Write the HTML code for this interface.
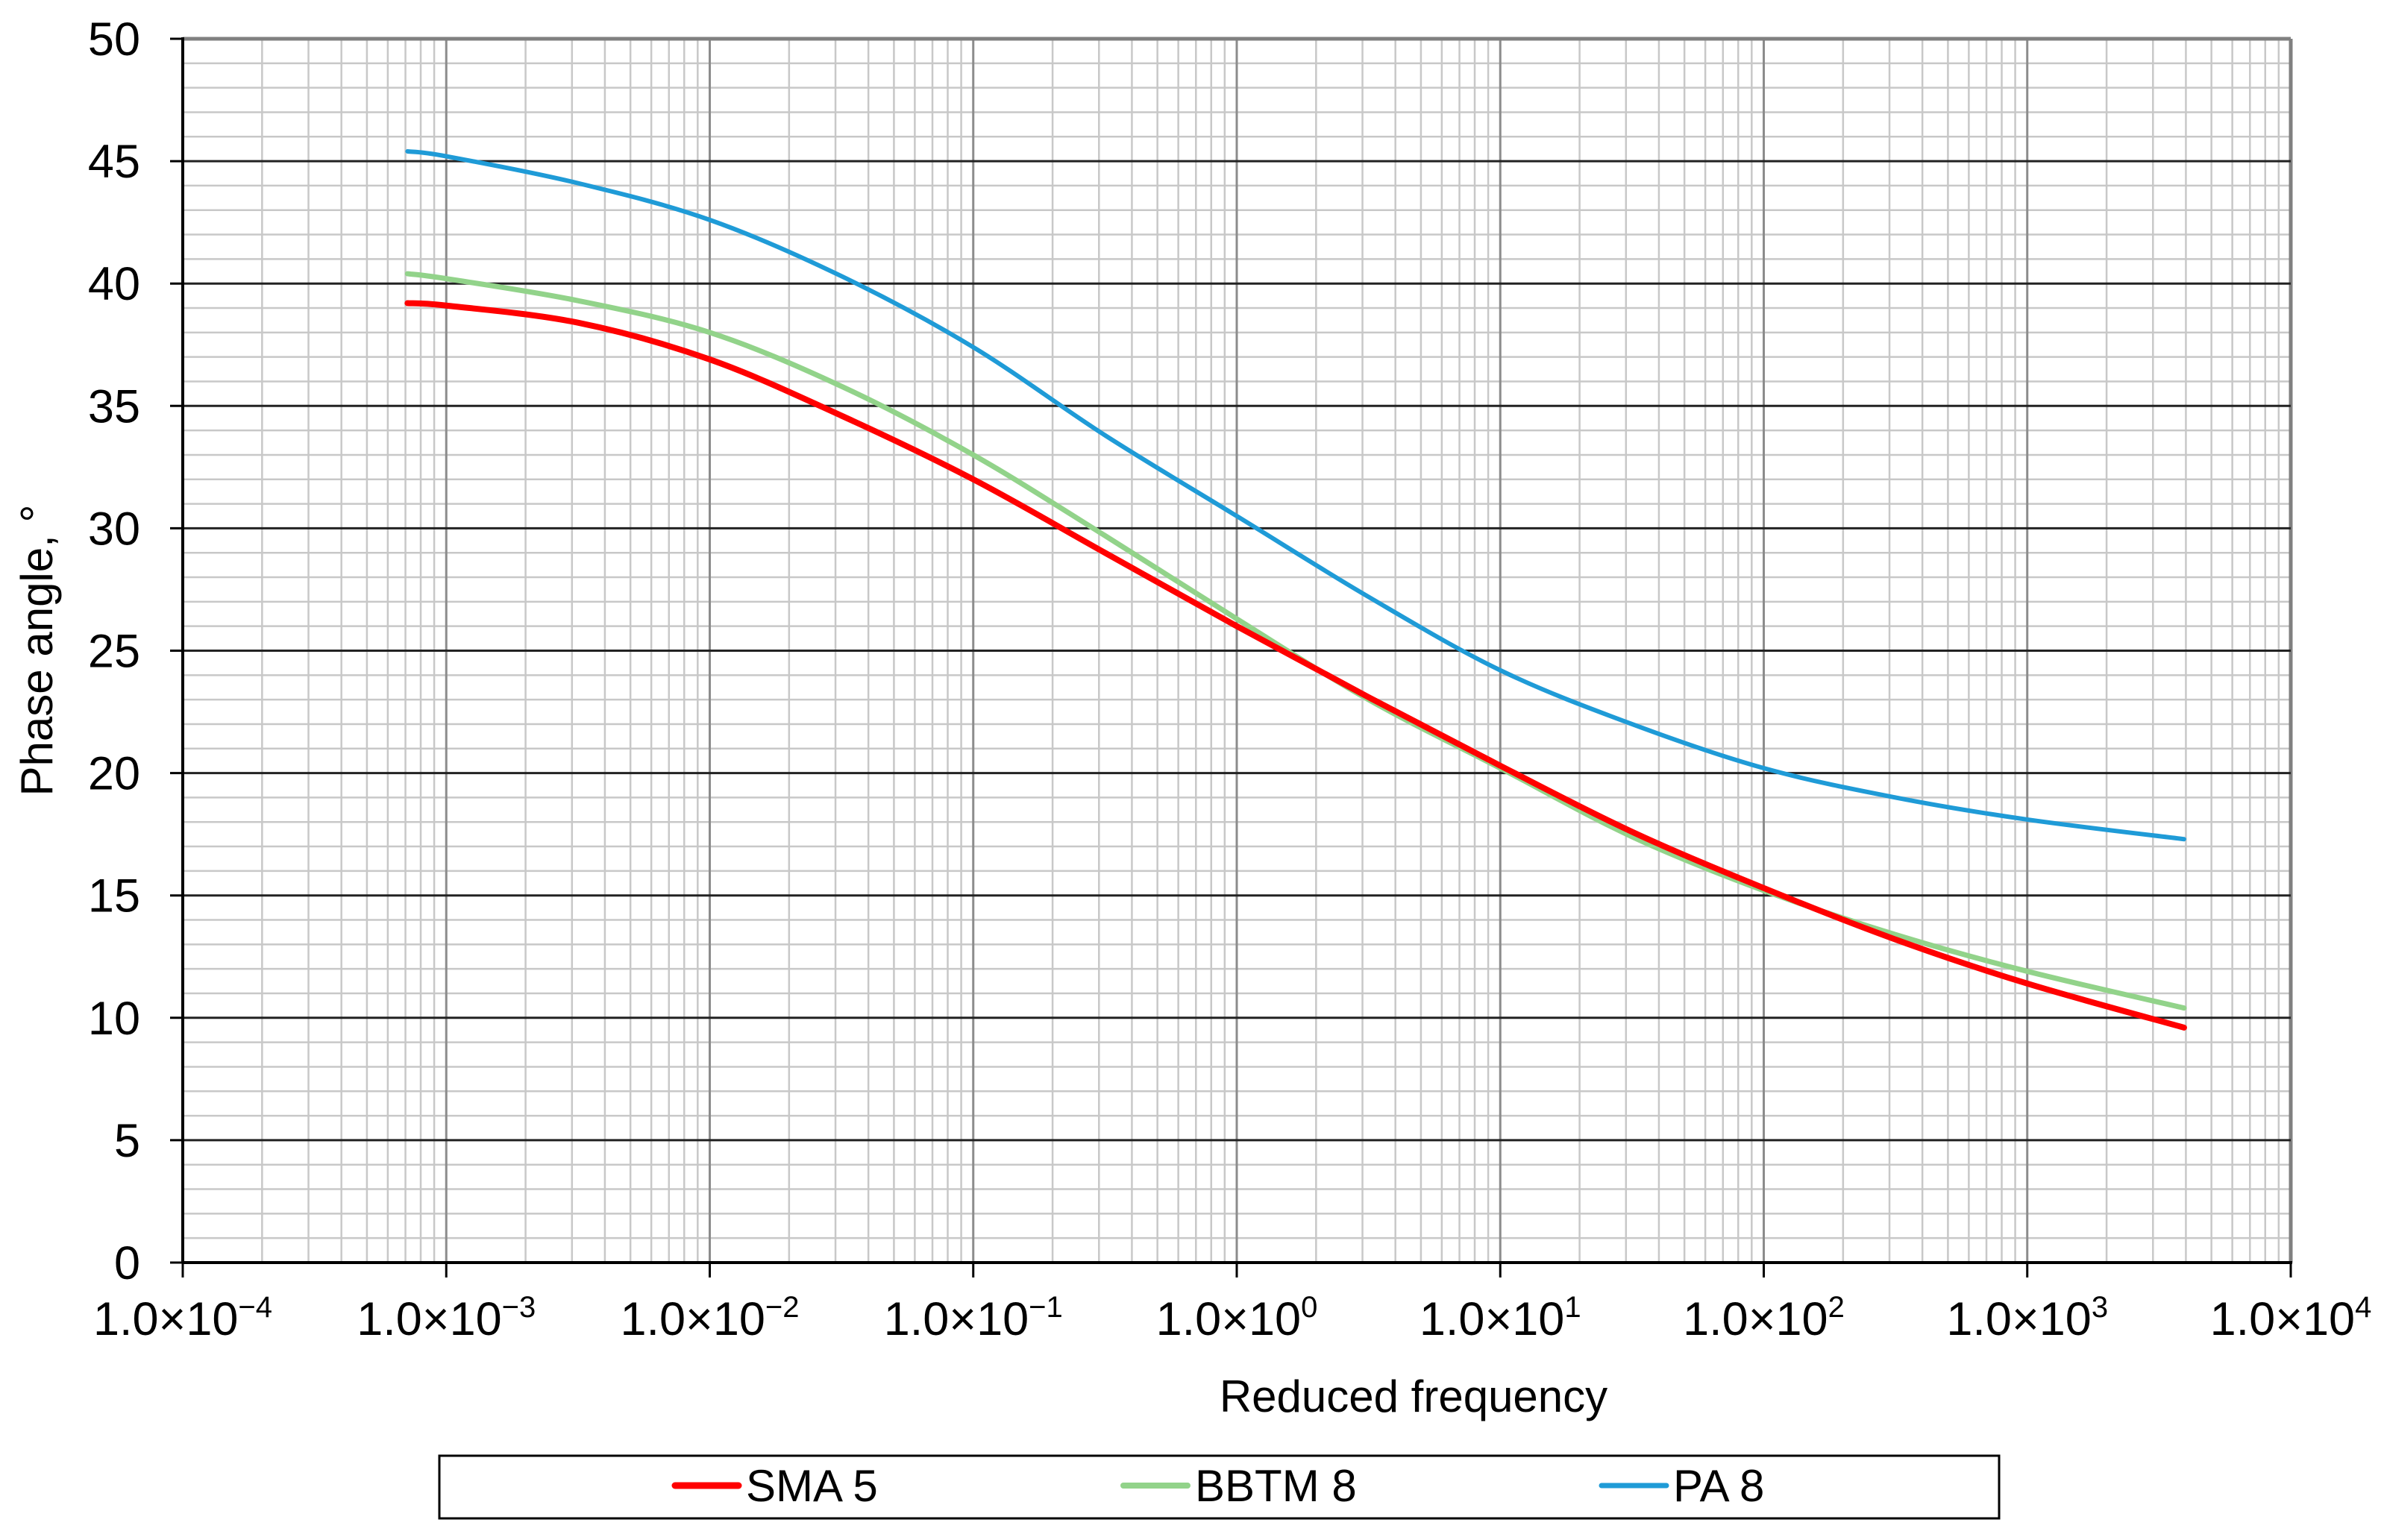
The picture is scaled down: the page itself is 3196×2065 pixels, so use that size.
<!DOCTYPE html>
<html><head><meta charset="utf-8"><style>
html,body{margin:0;padding:0;background:#fff;}
svg{display:block;font-family:"Liberation Sans",Arial,sans-serif;}
</style></head><body>
<svg id="chart" width="3196" height="2065" viewBox="0 0 3196 2065" xmlns="http://www.w3.org/2000/svg">
<g id="grid"></g>
<g id="series"></g>
<g id="axes"></g>
<text x="0" y="0" font-size="60" text-anchor="middle" transform="translate(70,872) rotate(-90)">Phase angle, °</text>
<text x="1895" y="1893" font-size="60" text-anchor="middle">Reduced frequency</text>
<g>
<rect x="589" y="1952" width="2091" height="84" fill="#fff" stroke="#000" stroke-width="3"/>
<g>
<line x1="905" y1="1992" x2="990" y2="1992" stroke="#ff0000" stroke-width="9" stroke-linecap="round"/>
<text x="1000" y="2013" font-size="60">SMA 5</text></g>
<g>
<line x1="1506" y1="1992" x2="1592" y2="1992" stroke="#92d38a" stroke-width="8" stroke-linecap="round"/>
<text x="1602" y="2013" font-size="60">BBTM 8</text></g>
<g>
<line x1="2147" y1="1992" x2="2234" y2="1992" stroke="#1f9bd7" stroke-width="7" stroke-linecap="round"/>
<text x="2243" y="2013" font-size="60">PA 8</text></g>
</g>
</svg>
<script>
const xLog = [-3.147,-3,-2.5,-2,-1.5,-1,-0.5,0,0.5,1,1.5,2,2.5,3,3.595];
const sma5 = [39.2,39.1,38.4,36.9,34.6,32.0,29.0,26.0,23.1,20.3,17.6,15.3,13.2,11.4,9.6];
const bbtm8 = [40.4,40.2,39.3,38.0,35.8,33.0,29.7,26.3,23.0,20.2,17.4,15.2,13.4,11.9,10.4];
const pa8 = [45.4,45.2,44.1,42.6,40.3,37.4,33.8,30.5,27.2,24.2,22.0,20.2,19.0,18.1,17.3];
const yTicks = [0,5,10,15,20,25,30,35,40,45,50];
const xDecades = [-4,-3,-2,-1,0,1,2,3,4];

const L=245,R=3071,T=52,B=1693;
const X=l=>L+(l+4)/8*(R-L);
const Y=v=>B-v/50*(B-T);
const NS="http://www.w3.org/2000/svg";
function mk(tag,attrs,parent){const e=document.createElementNS(NS,tag);for(const k in attrs)e.setAttribute(k,attrs[k]);parent.appendChild(e);return e;}
const grid=document.getElementById('grid'),axes=document.getElementById('axes'),ser=document.getElementById('series');
// minor horizontal
for(let v=1;v<50;v++){if(v%5===0)continue;
const l=mk('line',{x1:L,x2:R,y1:Y(v),y2:Y(v),stroke:'#c8c8c8','stroke-width':2.5},grid);

}
// minor vertical
for(let d=-4;d<4;d++){for(let m=2;m<=9;m++){const x=X(d+Math.log10(m));
const l=mk('line',{x1:x,x2:x,y1:T,y2:B,stroke:'#c8c8c8','stroke-width':2.5},grid);

}}
// major vertical
xDecades.forEach(d=>{if(d===-4)return;const x=X(d);
const l=mk('line',{x1:x,x2:x,y1:T,y2:B,stroke:d===4?'#808080':'#8c8c8c','stroke-width':d===4?5:3},grid);

});
// major horizontal
yTicks.forEach(v=>{if(v===0)return;
const l=mk('line',{x1:L,x2:R,y1:Y(v),y2:Y(v),stroke:v===50?'#808080':'#222','stroke-width':v===50?5:3},grid);


});
// series
function pathFor(vals){const p=xLog.map((l,i)=>[X(l),Y(vals[i])]);let d='M'+p[0][0]+','+p[0][1];
for(let i=0;i<p.length-1;i++){const p0=p[i-1]||p[i],p1=p[i],p2=p[i+1],p3=p[i+2]||p2;
const c1=[p1[0]+(p2[0]-p0[0])/6,p1[1]+(p2[1]-p0[1])/6],c2=[p2[0]-(p3[0]-p1[0])/6,p2[1]-(p3[1]-p1[1])/6];
d+=' C'+c1+' '+c2+' '+p2;}return d;}
[[pa8,'#1f9bd7',6,'line-pa8'],[bbtm8,'#92d38a',7,'line-bbtm8'],[sma5,'#ff0000',8,'line-sma5']].forEach(s=>{
const e=mk('path',{d:pathFor(s[0]),fill:'none',stroke:s[1],'stroke-width':s[2],'stroke-linecap':'round'},ser);

});
// axes
let a=mk('line',{x1:L,x2:L,y1:T-2,y2:B,stroke:'#000','stroke-width':4},axes);


a=mk('line',{x1:L,x2:R+2,y1:B,y2:B,stroke:'#000','stroke-width':4},axes);


yTicks.forEach(v=>{mk('line',{x1:228,x2:L,y1:Y(v),y2:Y(v),stroke:'#000','stroke-width':3},axes);
const t=mk('text',{x:188,y:Y(v)+22,'font-size':63,'text-anchor':'end'},axes);t.textContent=v;

});
xDecades.forEach(d=>{const x=X(d);mk('line',{x1:x,x2:x,y1:B,y2:1713,stroke:'#000','stroke-width':3},axes);
const t=mk('text',{x:x,y:1790,'font-size':63,'text-anchor':'middle'},axes);


t.appendChild(document.createTextNode('1.0×10'));
const s=mk('tspan',{'font-size':40,dy:-24},t);s.textContent=(d<0?'−':'')+Math.abs(d);});
</script>
</body></html>
